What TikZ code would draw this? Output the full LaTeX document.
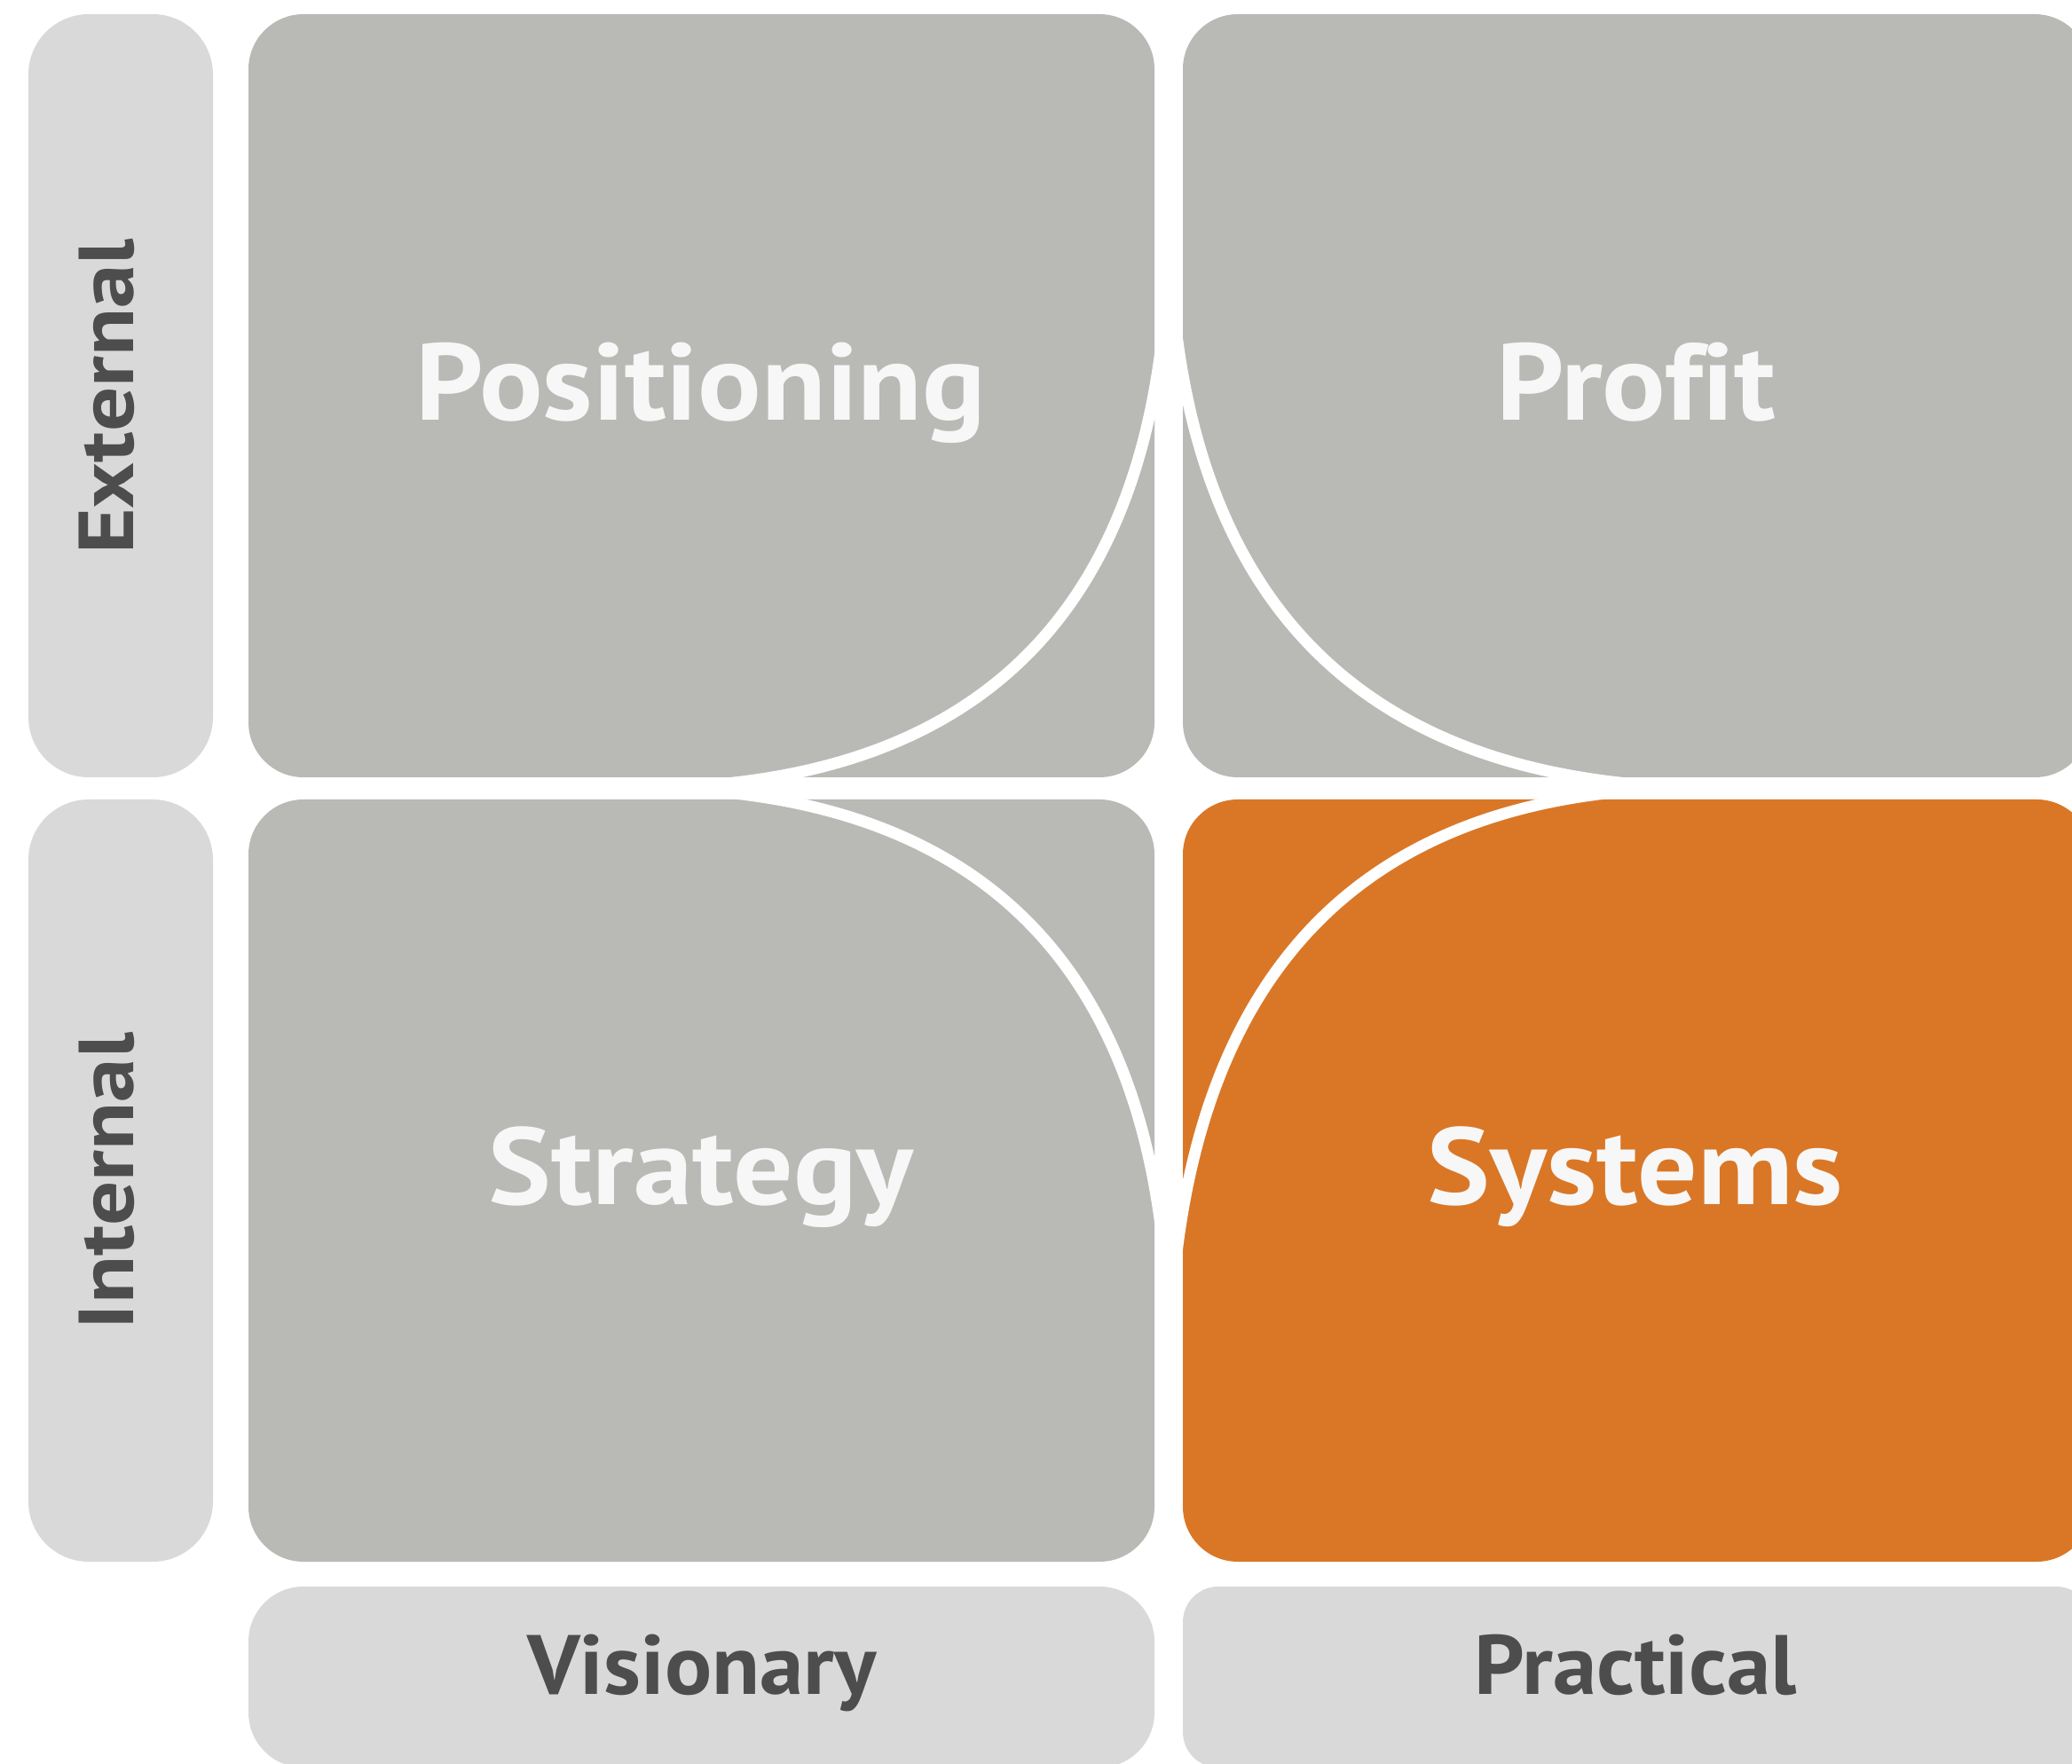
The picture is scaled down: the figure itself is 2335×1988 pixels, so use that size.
\documentclass[tikz,border=0pt]{standalone}
\usepackage{fontspec}
\setmainfont{PT Sans}[Ligatures=NoCommon]
\newfontfamily\quadfont{PT Sans}[FakeStretch=1.085,Ligatures=NoCommon]
\newfontfamily\sidefont{PT Sans}[FakeStretch=1.13,Ligatures=NoCommon]
\newfontfamily\footfont{PT Sans}[FakeStretch=1.045,Ligatures=NoCommon]
\usepackage{xcolor}
\usepackage{tikz}
\definecolor{quadgray}{HTML}{B9BAB5}
\definecolor{axisgray}{HTML}{D9D9D9}
\definecolor{sysorange}{HTML}{D97727}
\definecolor{labeldark}{HTML}{4D4D4D}
\definecolor{labelwhite}{HTML}{F7F7F7}
\tikzset{
  quadbox/.style={fill=quadgray,rounded corners=6.2mm},
  axisbox/.style={fill=axisgray,rounded corners=6.2mm},
  divider/.style={draw=white,line width=1.3mm},
  quadtext/.style={text=labelwhite,anchor=base,font=\fontsize{35}{35}\quadfont\bfseries},
  sidetext/.style={text=labeldark,anchor=base,rotate=90,font=\fontsize{25}{25}\sidefont\bfseries},
  foottext/.style={text=labeldark,anchor=base,font=\fontsize{27}{27}\footfont\bfseries}
}

\begin{document}
\begin{tikzpicture}[x=0.1mm,y=-0.1mm]
\useasboundingbox (0,0) rectangle (2335,1988);
\clip (0,0) rectangle (2335,1988);
% axes
\fill[axisbox,rounded corners=6.8mm] (32,16) rectangle (240,876);
\fill[axisbox,rounded corners=6.8mm] (32,901) rectangle (240,1760);
\fill[axisbox] (280,1788) rectangle (1301,1992);
\fill[axisbox,rounded corners=4mm] (1333,1788) rectangle (2357,1992);
% quadrants
\fill[quadbox] (280,16) rectangle (1301,876);
\fill[quadbox] (1333,16) rectangle (2355,876);
\fill[quadbox] (280,901) rectangle (1301,1760);
\fill[quadbox,fill=sysorange] (1333,901) rectangle (2357,1760);
% white curves, meeting at the centre gap
\draw[divider] (1317,248) .. controls (1317,675) and (1117,888) .. (717,888);
\draw[divider] (1317,228) .. controls (1317,668) and (1524,888) .. (1937,888);
\draw[divider] (717,888) .. controls (1117,888) and (1317,1101) .. (1317,1528);
\draw[divider] (1917,888) .. controls (1517,888) and (1317,1115) .. (1317,1568);
% labels
\node[quadtext] (positioning) at (790,474) {Positioning};
\node[quadtext] (profit) at (1844,474) {Profit};
\node[quadtext] (strategy) at (790,1358) {Strategy};
\node[quadtext] (systems) at (1843,1358) {Systems};
\node[sidetext] (external) at (150,447) {External};
\node[sidetext] (internal) at (150,1331) {Internal};
\node[foottext] (visionary) at (791,1909) {Visionary};
\node[foottext] (practical) at (1843,1909) {Practical};
\end{tikzpicture}
\end{document}
